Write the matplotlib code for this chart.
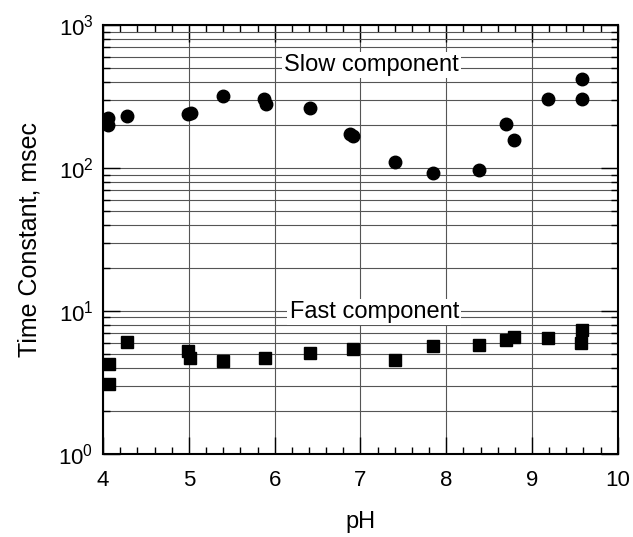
import matplotlib.pyplot as plt
from matplotlib.ticker import LogLocator, MultipleLocator, LogFormatterMathtext

plt.rcParams["font.family"] = ["Liberation Sans", "DejaVu Sans"]
plt.rcParams["mathtext.fontset"] = "custom"
plt.rcParams["mathtext.rm"] = "Liberation Sans"

# slow component (circles)
slow_ph = [4.06, 4.06, 4.28, 4.99, 5.02, 5.40, 5.88, 5.90, 6.41, 6.88, 6.91,
           7.40, 7.84, 8.38, 8.70, 8.79, 9.19, 9.58, 9.58]
slow_tau = [224, 201, 233, 240, 243, 320, 306, 280, 265, 173, 168,
            110, 93, 97, 204, 156, 303, 421, 306]

# fast component (squares)
fast_ph = [4.07, 4.07, 4.28, 4.99, 5.01, 5.40, 5.89, 6.41, 6.91,
           7.40, 7.84, 8.38, 8.70, 8.79, 9.19, 9.58, 9.57]
fast_tau = [4.27, 3.10, 6.05, 5.20, 4.68, 4.46, 4.70, 5.07, 5.43,
            4.51, 5.70, 5.82, 6.25, 6.62, 6.45, 7.38, 6.01]

fig = plt.figure(figsize=(6.33, 5.37), dpi=100)
ax = fig.add_axes([0.163, 0.155, 0.813, 0.798])

ax.set_yscale("log")
ax.set_xlim(4, 10)
ax.set_ylim(1, 1000)

ax.grid(True, which="major", color="#555555", linewidth=0.8)
ax.grid(True, which="minor", axis="y", color="#555555", linewidth=0.8)
ax.set_axisbelow(True)

ax.plot(slow_ph, slow_tau, "o", color="black", markersize=9, zorder=3)
ax.plot(fast_ph, fast_tau, "s", color="black", markersize=8.5, zorder=3)

box = dict(facecolor="white", edgecolor="none", pad=1.5)
ax.text(7.13, 526, "Slow component", ha="center", va="center", fontsize=17, bbox=box, zorder=2)
ax.text(7.16, 9.85, "Fast component", ha="center", va="center", fontsize=17, bbox=box, zorder=2)

ax.xaxis.set_major_locator(MultipleLocator(1))
ax.xaxis.set_minor_locator(MultipleLocator(0.2))
ax.yaxis.set_major_locator(LogLocator(base=10))
ax.yaxis.set_minor_locator(LogLocator(base=10, subs=range(2, 10)))
ax.yaxis.set_major_formatter(LogFormatterMathtext())

ax.tick_params(which="both", direction="in", top=True, right=True, labelsize=16)
ax.tick_params(which="major", length=12, width=1)
ax.tick_params(which="minor", length=5, width=1)
ax.tick_params(axis="x", pad=12)
ax.tick_params(axis="y", pad=7)
for s in ax.spines.values():
    s.set_linewidth(1.5)

ax.set_xlabel("pH", fontsize=17, labelpad=14)
ax.set_ylabel("Time Constant, msec", fontsize=18, labelpad=12)

fig.savefig("out.png", dpi=100)
